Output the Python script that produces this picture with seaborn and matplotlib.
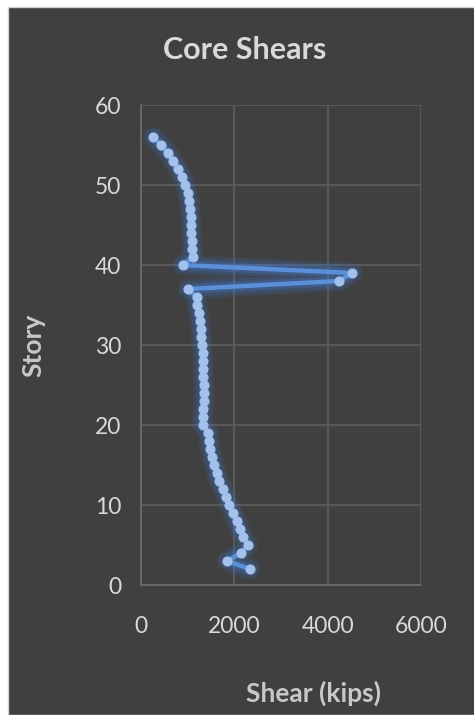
import numpy as np
import pandas as pd
import matplotlib
matplotlib.use("Agg")
import matplotlib.pyplot as plt
import matplotlib.patches as mpatches
import seaborn as sns

story = list(range(2, 57))
shear = [2336, 1850, 2143, 2286, 2193, 2114, 2050, 1979, 1893, 1829,
         1757, 1679, 1621, 1571, 1521, 1486, 1457, 1445, 1321, 1321,
         1336, 1343, 1343, 1343, 1336, 1336, 1329, 1321, 1307, 1293,
         1279, 1264, 1243, 1200, 1193, 1007, 4236, 4528, 893, 1121,
         1086, 1086, 1079, 1071, 1064, 1050, 1029, 1000, 950, 886,
         800, 693, 579, 429, 264]
df = pd.DataFrame({"Story": story, "Shear": shear})

sns.set_style("dark")
plt.rcParams["font.family"] = ["Lato", "DejaVu Sans"]

bg = "#404040"
fig = plt.figure(figsize=(4.74, 7.15), dpi=100, facecolor="white")
fig.patches.append(mpatches.Rectangle((8 / 474, 0), 1, 1 - 7 / 715,
                                      transform=fig.transFigure,
                                      facecolor=bg, edgecolor="#d0d0d0",
                                      linewidth=1.0, zorder=-5))
ax = fig.add_axes([141 / 474, 1 - 585 / 715, 280 / 474, 480 / 715])
ax.set_facecolor(bg)
ax.set_zorder(1)

# soft glow under the series
for w, a in [(15, 0.12), (11, 0.16), (7, 0.25)]:
    ax.plot(df["Shear"], df["Story"], color="#3f7fdf", linewidth=w,
            alpha=a, solid_capstyle="round", solid_joinstyle="round",
            zorder=2)

sns.lineplot(data=df, x="Shear", y="Story", sort=False, orient="y",
             estimator=None, ax=ax,
             color="#5a8fd9", linewidth=3.2, marker="o", markersize=6.5,
             markerfacecolor="#a3c1ea", markeredgecolor="#a3c1ea",
             zorder=3)

ax.set_xlim(0, 6000)
ax.set_ylim(0, 60)
ax.set_xticks([0, 2000, 4000, 6000])
ax.set_yticks(range(0, 61, 10))
ax.grid(True, color="#5e5e5e", linewidth=1.2)
for s in ["top", "right"]:
    ax.spines[s].set_visible(False)
for s in ["left", "bottom"]:
    ax.spines[s].set_color("#6e6e6e")
    ax.spines[s].set_linewidth(1.2)
ax.tick_params(colors="#d9d9d9", labelsize=16.5, length=0)
ax.tick_params(axis="y", pad=14)
ax.tick_params(axis="x", pad=22)
ax.set_xlabel("")
ax.set_ylabel("")

fig.text(245 / 474, 1 - 50 / 715, "Core Shears", ha="center", va="center",
         fontsize=22, fontweight="bold", color="#d9d9d9")
fig.text(313 / 474, 1 - 693 / 715, "Shear (kips)", ha="center", va="center",
         fontsize=19, fontweight="bold", color="#c8c8c8")
fig.text(33 / 474, 1 - 345 / 715, "Story", ha="center", va="center",
         rotation=90, fontsize=19, fontweight="bold", color="#c8c8c8")

fig.savefig("out.png", dpi=100, facecolor="white")
